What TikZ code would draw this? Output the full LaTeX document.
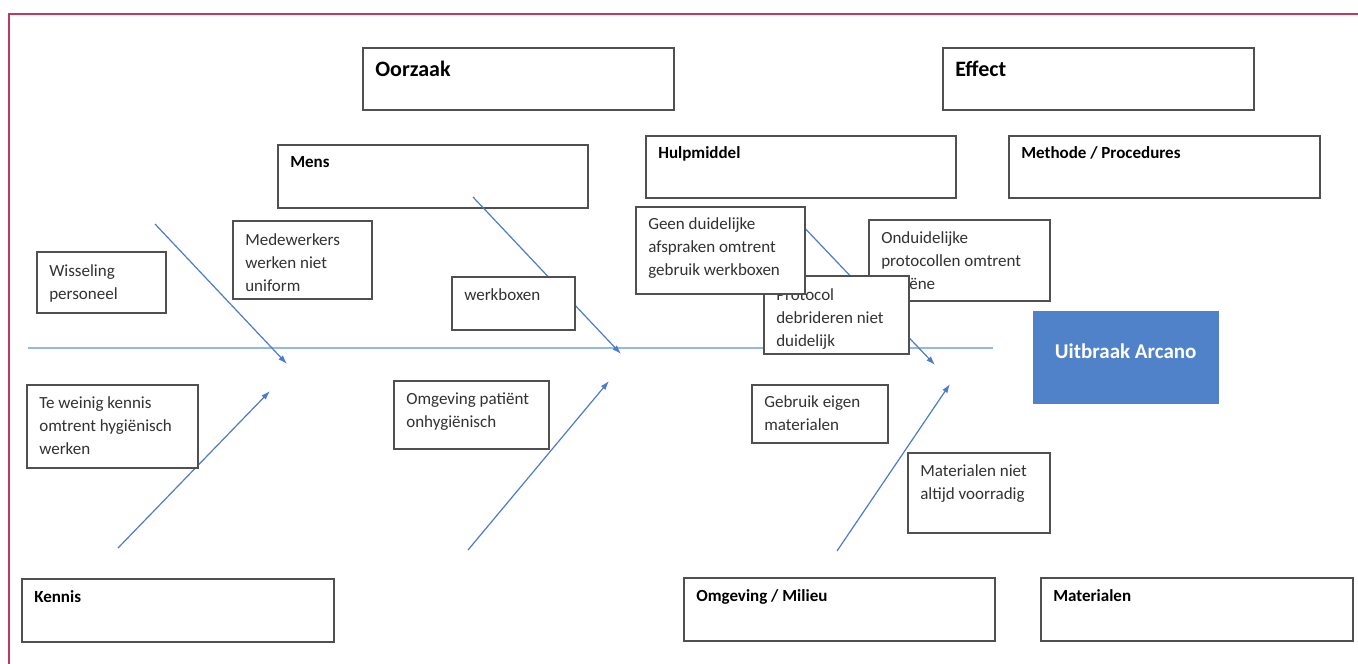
\documentclass[tikz,border=0pt]{standalone}
\usepackage{fontspec}
\setmainfont{Carlito}
\usetikzlibrary{arrows.meta}
\definecolor{framered}{RGB}{194,55,91}
\definecolor{boxline}{RGB}{80,80,80}
\definecolor{bodytext}{RGB}{50,50,50}
\definecolor{arrowblue}{RGB}{74,124,201}
\definecolor{spineblue}{RGB}{150,182,228}
\definecolor{effectblue}{RGB}{80,130,202}
\newcommand\mkbox[7]{%
  \node[boxst] (#1) at (#2,#3) {\parbox[t][#5pt][t]{#4pt}{\fontsize{17}{23}\selectfont\color{bodytext}\raggedright\leftskip=12.5pt\relax\rule{0pt}{#6pt}#7}};}
\begin{document}
\begin{tikzpicture}[x=1pt,y=-1pt,
  boxst/.style={draw=boxline, line width=1.6pt, fill=white, inner sep=0pt, anchor=north west},
  bone/.style={draw=arrowblue, line width=1.2pt, -{Latex[length=9pt,width=6pt]}},
  spinest/.style={draw=spineblue, line width=1.1pt},
  framest/.style={draw=framered, line width=2pt}]
\useasboundingbox (0,0) rectangle (1358,664);
% frame
\coordinate (fbl) at (9,664);
\coordinate (ftl) at (9,14);
\coordinate (ftr) at (1358,14);
\draw[framest] (fbl) -- (ftl) -- (ftr);
% spine
\coordinate (sp1) at (28,348);
\coordinate (sp2) at (993,348);
\draw[spinest] (sp1) -- (sp2);
% category boxes
\mkbox{oorzaak}{362}{47}{311}{62}{29}{\color{black}\fontsize{22}{26}\selectfont\bfseries Oorzaak}
\mkbox{effect}{942}{47}{311}{62}{29}{\color{black}\fontsize{22}{26}\selectfont\bfseries Effect}
\mkbox{mens}{277}{144}{310}{63}{23}{\color{black}\bfseries Mens}
\mkbox{hulp}{645}{135}{310}{62}{23}{\color{black}\bfseries Hulpmiddel}
\mkbox{methode}{1008}{135}{311}{62}{23}{\color{black}\bfseries Methode / Procedures}
\mkbox{kennis}{21}{578}{312}{63}{24}{\color{black}\bfseries Kennis}
\mkbox{omgeving}{683}{577}{311}{63}{24}{\color{black}\bfseries Omgeving / Milieu}
\mkbox{materialen}{1040}{577}{312}{63}{24}{\color{black}\bfseries Materialen}
% effect box
\node[fill=effectblue, draw=effectblue, inner sep=0pt, anchor=north west] (uitbraak) at (1033,311)
  {\parbox[t][92pt][t]{185pt}{\centering\fontsize{21}{25}\selectfont\bfseries\color{white}\rule{0pt}{47pt}Uitbraak Arcano}};
% bones
\coordinate (a1s) at (155,224); \coordinate (a1e) at (287,364);
\coordinate (a2s) at (473,197); \coordinate (a2e) at (621,354);
\coordinate (a3s) at (798,221); \coordinate (a3e) at (935,365);
\coordinate (a4s) at (118,548); \coordinate (a4e) at (270,391);
\coordinate (a5s) at (468,550); \coordinate (a5e) at (609,381);
\coordinate (a6s) at (837,551); \coordinate (a6e) at (950,384);
\draw[bone] (a1s) -- (a1e);
\draw[bone] (a2s) -- (a2e);
\draw[bone] (a3s) -- (a3e);
\draw[bone] (a4s) -- (a4e);
\draw[bone] (a5s) -- (a5e);
\draw[bone] (a6s) -- (a6e);
% cause boxes
\mkbox{wisseling}{36}{251}{129}{61}{25}{Wisseling\\personeel}
\mkbox{medewerkers}{232}{220}{139}{78}{25}{Medewerkers\\werken niet\\uniform}
\mkbox{werkboxen}{451}{276}{123}{53}{24}{werkboxen}
\mkbox{teweinig}{26}{384}{171}{83}{24}{Te weinig kennis\\omtrent hygiënisch\\werken}
\mkbox{omgpat}{393}{380}{155}{68}{24}{Omgeving patiënt\\onhygiënisch}
\mkbox{gebruik}{751}{384}{136}{58}{23}{Gebruik eigen\\materialen}
\mkbox{matniet}{907}{452}{142}{80}{24}{Materialen niet\\altijd voorradig}
\mkbox{onduidelijk}{868}{219}{181}{81}{24}{Onduidelijke\\protocollen omtrent\\hygiëne}
\mkbox{protocol}{763}{275}{145}{78}{25}{Protocol\\debrideren niet\\duidelijk}
\mkbox{geen}{635}{206}{169}{87}{23}{Geen duidelijke\\afspraken omtrent\\gebruik werkboxen}
\end{tikzpicture}
\end{document}
